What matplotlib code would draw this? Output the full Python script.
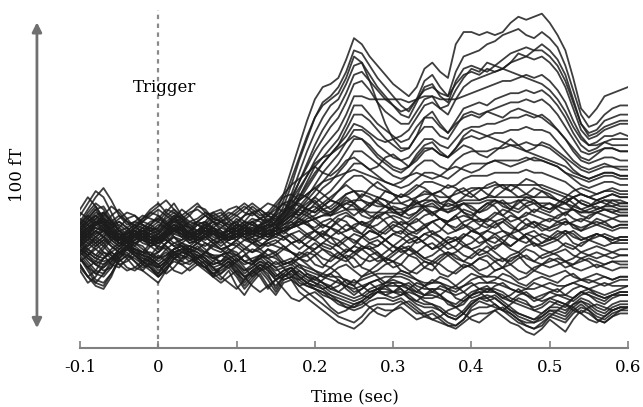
import numpy as np
import matplotlib
matplotlib.use('Agg')
import matplotlib.pyplot as plt

plt.rcParams['font.family'] = ['DejaVu Serif']

# sample times (sec), one value every 10 ms from -0.1 to 0.6
times = np.linspace(-0.1, 0.6, 71)

# sensor traces in fT
upper_traces = [
    [4,7,10,6,2,0,3,5,2,1, 0,4,6,3,1,3,5,4,2,3, 5,4,3,5,6,9,15,23,31,39,
     46,50,51,53,59,66,64,60,57,54, 51,49,47,50,56,58,55,53,64,68,
     68,67,68,67,68,71,73,72,73,74, 71,67,62,53,43,40,43,47,48,49,50],
    [2,5,8,9,5,1,-1,2,4,3, 1,2,5,4,0,1,4,6,3,1, 2,5,6,4,3,6,11,18,26,33,
     40,45,47,50,55,62,61,57,53,50, 47,44,42,46,52,54,50,47,55,60,
     61,62,64,65,67,68,69,67,66,68, 66,63,57,49,41,37,38,41,43,44,44],
    [-2,1,5,9,6,3,0,-2,1,4, 3,6,8,5,2,0,2,5,6,4, 3,1,2,5,6,5,9,15,22,29,
     35,40,44,46,51,57,58,54,50,47, 44,41,40,45,50,51,47,45,52,56,
     57,56,55,57,59,61,62,63,62,64, 62,59,54,46,38,35,36,39,40,41,41],
    [1,3,6,4,0,-2,1,3,2,-1, -2,1,4,6,3,0,1,3,2,0, 1,3,5,4,2,4,8,13,19,25,
     31,36,40,43,48,54,55,52,49,46, 44,42,43,46,49,50,48,47,51,54,
     55,54,56,55,56,58,59,60,59,60, 58,55,50,43,36,33,34,36,37,38,38],
    [3,6,9,8,4,1,2,4,3,1, 0,3,7,5,2,2,4,3,1,2, 4,5,3,2,4,6,9,14,19,24,
     29,33,37,40,45,51,52,49,45,42, 40,38,38,42,46,47,43,41,46,50,
     52,53,54,55,56,55,54,53,52,51, 49,46,42,37,33,31,32,34,34,35,34],
    [0,2,4,3,1,-1,-2,1,3,2, 0,1,3,5,4,1,0,2,4,3, 1,2,4,5,3,4,7,11,16,21,
     26,30,33,36,41,47,47,46,46,46, 46,46,45,46,47,47,46,46,46,47,
     48,49,50,51,52,52,53,54,53,54, 52,49,45,39,34,31,31,32,33,33,33],
    [5,8,11,7,3,1,2,3,1,0, 2,5,7,4,2,3,5,4,2,3, 4,3,2,4,5,5,7,10,14,19,
     24,27,30,33,38,44,44,41,38,36, 34,32,33,37,40,40,37,35,39,43,
     44,45,44,46,47,48,48,49,48,49, 47,44,40,35,31,29,30,32,31,31,31],
    [-1,2,5,6,3,0,-1,1,2,0, -1,1,4,3,1,0,2,4,3,1, 0,2,3,2,1,3,6,9,13,17,
     21,25,28,31,36,41,41,39,36,33, 31,29,30,34,37,37,34,33,37,41,
     42,41,42,43,44,45,45,46,45,46, 44,41,37,33,29,28,29,30,30,29,29],
    [2,4,6,4,1,-1,0,2,1,-1, 0,3,5,3,1,1,3,2,0,1, 3,4,2,1,3,4,6,8,11,14,
     18,22,25,28,32,36,36,34,31,29, 27,26,27,30,33,33,31,30,33,36,
     37,37,38,38,39,40,40,41,40,41, 39,36,33,29,26,25,26,27,27,26,26],
    [1,3,5,6,2,-1,1,3,2,0, 1,2,4,2,0,2,4,3,1,0, 2,4,4,2,2,3,5,7,10,13,
     16,19,22,25,29,33,33,31,28,26, 24,23,24,27,30,30,28,27,30,33,
     34,33,34,35,35,36,36,37,36,36, 35,32,29,26,24,23,24,25,24,24,24],
    [0,1,3,5,4,1,-1,0,2,1, -1,0,3,4,2,0,1,3,2,0, 1,3,3,2,1,2,4,6,8,11,
     14,17,19,22,25,29,29,27,25,23, 21,20,21,24,26,26,24,23,26,28,
     29,29,29,30,30,31,31,32,31,31, 30,28,26,23,21,20,21,22,22,21,21],
    [3,5,7,5,2,0,1,2,0,-1, 1,3,5,3,1,2,3,1,0,2, 3,2,1,2,3,3,4,5,7,9,
     12,14,16,19,22,25,25,23,21,19, 18,17,18,20,22,22,21,20,22,24,
     25,25,25,26,26,26,26,27,26,26, 25,24,22,20,18,17,18,19,19,18,18],
    [-2,0,2,3,1,-1,-2,0,1,0, -1,1,3,2,0,-1,1,2,1,0, 1,2,2,1,0,1,3,4,6,8,
     10,12,14,16,19,21,21,19,17,16, 15,14,15,17,19,19,18,17,18,20,
     21,21,21,22,22,22,22,23,22,22, 21,20,19,17,15,14,15,16,16,15,15],
    [1,2,4,3,0,-2,-1,1,2,1, 0,2,4,3,1,0,2,3,1,0, 1,2,3,2,1,2,3,4,5,7,
     8,10,11,13,15,16,16,15,14,13, 12,12,13,14,15,15,14,14,15,16,
     17,17,17,18,18,18,18,18,18,18, 17,16,15,14,12,11,12,13,13,13,12],
    [4,6,8,5,1,-1,0,2,1,-2, -1,1,4,3,0,1,3,2,0,1, 2,1,0,1,2,3,4,4,5,6,
     7,8,9,11,12,13,13,12,11,11, 10,10,11,12,13,13,12,11,12,13,
     13,13,14,14,14,14,14,14,14,14, 14,13,12,11,10,9,10,11,11,10,10],
    [0,3,6,7,3,0,1,2,0,-1, 0,2,3,2,-1,0,2,4,2,0, 1,3,2,1,2,2,3,4,5,6,
     7,8,8,9,10,10,10,9,9,9, 9,9,10,11,11,11,10,10,11,12,
     12,12,13,13,12,12,13,13,12,12, 12,11,10,10,9,9,9,10,10,9,9],
    [2,4,5,3,1,0,2,3,1,0, 1,3,4,2,1,2,3,2,1,2, 3,4,3,3,4,5,7,10,14,18,
     22,25,28,31,34,38,37,35,33,32, 33,34,36,40,44,45,43,44,49,53,
     56,55,58,57,56,58,61,60,62,62, 60,57,52,45,38,34,35,37,38,39,39],
    [1,3,5,6,3,1,0,2,3,2, 1,2,4,3,1,1,3,4,2,1, 2,3,3,4,5,8,13,20,27,34,
     40,44,46,48,53,60,58,52,45,38, 33,30,30,34,40,42,38,35,38,40,
     41,40,42,41,40,42,43,42,41,40, 38,36,33,30,27,26,28,30,30,29,29],
    [9,7,5,8,11,9,6,5,7,10, 12,9,7,6,8,11,10,7,6,8, 10,12,10,8,9,12,15,18,20,22,
     24,22,21,23,26,27,25,23,24,27, 28,26,24,26,29,30,28,27,29,31,
     30,28,27,29,31,33,31,29,30,32, 31,29,27,25,23,22,23,24,24,23,23],
    [1,4,7,9,6,3,2,4,6,5, 3,5,8,7,4,2,4,7,6,4, 3,5,7,6,4,6,9,13,17,21,
     25,27,28,30,32,34,33,30,27,25, 23,22,24,28,31,32,29,27,30,34,
     36,35,34,33,32,31,30,29,28,27, 26,25,24,22,21,20,21,22,22,21,21],
    [3,1,-1,1,4,5,3,1,2,4, 6,4,2,1,3,5,4,2,1,3, 5,4,2,3,5,7,9,11,13,15,
     17,19,20,21,22,23,22,21,20,19, 18,19,21,22,21,20,21,23,24,23,
     22,23,25,26,25,24,25,26,27,26, 25,24,22,21,20,19,20,21,21,20,20],
]

middle_traces = [
    [8,12,16,14,9,4,2,4,7,9, 11,13,10,8,10,12,9,7,8,10, 11,9,8,10,12,11,9,12,15,14,
     12,10,9,11,13,12,10,8,7,9, 11,10,8,9,12,13,11,9,10,12,
     11,9,10,12,13,11,10,12,13,11, 10,12,14,12,10,11,13,12,11,12,12],
    [5,9,12,10,6,3,4,6,5,3, 4,8,10,7,5,6,8,6,4,6, 8,6,5,7,9,8,6,8,10,9,
     7,5,4,6,8,7,5,4,5,7, 8,7,5,6,8,9,7,6,7,8,
     7,6,7,9,8,6,7,9,8,7, 6,8,9,7,6,8,9,8,7,8,8],
    [2,4,6,5,3,1,2,3,2,1, 2,5,7,4,2,3,4,3,2,3, 5,4,2,3,5,4,3,5,6,5,
     3,2,1,3,5,4,2,0,1,3, 5,4,2,3,5,6,4,2,3,5,
     4,2,3,5,6,4,3,5,6,4, 3,4,6,5,3,4,5,4,3,4,4],
    [0,-2,1,3,1,-1,0,1,-1,-2, -1,2,4,1,-1,0,2,0,-1,1, 2,0,-1,1,2,1,0,2,3,1,
     0,-2,-3,-1,1,0,-2,-3,-2,0, 2,1,-1,0,2,3,1,-1,0,2,
     1,-1,0,2,3,1,0,2,3,1, 0,1,3,2,0,1,2,1,0,1,1],
    [-3,-5,-2,0,-2,-4,-3,-1,-3,-5, -4,-1,1,-2,-4,-3,-1,-3,-4,-2, -1,-3,-4,-2,-1,-2,-3,-1,0,-2,
     -4,-6,-7,-5,-3,-4,-6,-7,-6,-4, -2,-3,-5,-4,-2,-1,-3,-5,-4,-2,
     -3,-5,-4,-2,-1,-3,-4,-2,-1,-3, -4,-3,-1,-2,-4,-3,-2,-3,-4,-3,-3],
    [-6,-9,-7,-4,-5,-8,-7,-5,-7,-9, -11,-7,-4,-5,-7,-6,-5,-7,-8,-6, -5,-7,-8,-6,-5,-6,-8,-7,-6,-8,
     -10,-12,-11,-9,-8,-10,-12,-11,-10,-8, -7,-8,-10,-11,-9,-7,-8,-10,-11,-9,
     -8,-10,-9,-7,-6,-8,-10,-11,-9,-8, -9,-8,-7,-9,-10,-9,-8,-9,-10,-9,-9],
    [4,7,10,11,7,3,1,2,4,6, 7,10,9,6,4,6,8,9,7,5, 6,8,9,7,6,8,10,11,9,8,
     6,4,6,8,9,7,5,6,8,9, 7,5,6,8,10,9,7,6,8,10,
     9,7,6,8,10,9,7,8,10,9, 8,7,9,10,8,7,9,10,9,8,8],
    [-1,1,3,1,-2,-4,-2,0,2,0, -3,-1,2,4,2,-1,-2,0,1,-1, -2,0,1,-1,-2,-1,1,2,0,-2,
     -3,-1,1,0,-2,-4,-3,-1,0,-2, -4,-2,0,1,-1,-3,-2,0,1,-1,
     -3,-2,0,1,-1,-2,0,1,-1,-2, -1,0,-2,-3,-1,0,-1,-2,-1,-1,-1],
    [-8,-12,-14,-11,-7,-4,-5,-7,-9,-8, -6,-4,-6,-8,-7,-5,-6,-9,-11,-8, -6,-9,-12,-10,-7,-9,-12,-10,-8,-11,
     -13,-11,-9,-11,-14,-15,-12,-10,-12,-14, -12,-10,-11,-13,-15,-14,-12,-13,-15,-13,
     -11,-12,-14,-13,-11,-12,-14,-15,-13,-12, -13,-14,-12,-11,-13,-14,-13,-12,-13,-12,-12],
    [6,10,14,17,13,8,5,6,8,7, 6,9,12,8,6,7,9,8,6,7, 9,11,9,7,8,10,12,13,11,10,
     9,11,13,12,10,8,10,12,13,11, 9,8,10,12,11,9,10,12,11,9,
     8,10,12,13,11,10,12,14,13,11, 10,11,13,14,12,11,12,13,12,11,11],
    [1,-1,-3,-1,2,3,1,-1,0,2, 3,1,-1,0,2,1,-1,-2,0,2, 3,1,-1,0,2,3,1,-1,0,2,
     3,1,-1,-2,0,2,1,-1,-2,0, 2,3,1,-1,0,2,1,-1,0,1,
     3,2,0,-1,1,2,0,-1,1,2, 1,0,2,3,1,0,1,2,1,0,0],
    [-4,-2,0,-2,-5,-7,-5,-3,-4,-6, -8,-6,-3,-2,-4,-6,-4,-2,-3,-5, -7,-5,-3,-4,-6,-5,-3,-4,-6,-7,
     -5,-3,-4,-6,-7,-5,-3,-2,-4,-6, -7,-5,-3,-4,-6,-7,-5,-4,-6,-7,
     -5,-3,-4,-6,-7,-5,-4,-6,-7,-5, -4,-5,-7,-6,-4,-5,-6,-5,-4,-5,-5],
    [3,1,-1,1,4,6,4,2,3,5, 7,5,3,4,6,5,3,4,6,5, 3,4,6,7,5,4,6,8,7,5,
     4,6,7,5,3,4,6,5,3,2, 4,6,5,3,4,6,7,5,4,6,
     7,5,4,6,7,5,3,4,6,5, 4,5,6,5,4,5,6,5,4,5,5],
    [-10,-14,-12,-8,-6,-8,-10,-9,-7,-9, -12,-9,-7,-8,-10,-8,-7,-9,-12,-14, -16,-13,-10,-12,-16,-13,-11,-13,-15,-14,
     -12,-14,-16,-17,-15,-13,-15,-17,-16,-14, -13,-14,-16,-17,-15,-13,-14,-16,-17,-15,
     -14,-16,-17,-15,-14,-16,-17,-16,-14,-15, -16,-17,-15,-14,-15,-16,-15,-14,-15,-15,-15],
    [7,5,2,4,8,10,7,4,6,9, 8,5,7,10,8,5,6,9,10,7, 5,8,11,9,6,9,12,10,8,11,
     13,10,8,11,14,12,9,11,14,13, 10,8,11,13,10,8,10,13,12,9,
     7,10,12,11,8,10,13,11,9,11, 12,10,8,11,13,12,10,11,13,12,12],
    [-2,0,3,1,-1,-3,0,2,0,-2, -4,-1,1,-1,-3,-1,1,-1,-3,-2, 0,2,0,-2,0,2,1,-1,-3,-1,
     1,3,1,-2,-4,-2,1,3,2,0, -2,-4,-3,0,2,1,-1,-3,-2,1,
     3,2,-1,-3,-1,2,3,1,-2,-1, 1,3,2,-1,-2,0,2,1,-1,0,0],
    [3,6,8,6,2,0,3,5,4,1, 0,3,6,5,2,3,6,4,2,4, 6,3,1,4,7,5,2,4,7,6,
     3,1,4,7,6,3,2,5,8,6, 3,2,5,7,5,2,3,6,8,5,
     3,4,7,6,3,2,5,7,5,3, 4,6,7,4,3,5,7,6,4,5,5],
    [-5,-3,-1,-4,-6,-4,-2,-4,-7,-5, -2,-3,-6,-7,-4,-2,-4,-6,-5,-3, -4,-7,-8,-5,-3,-5,-8,-7,-4,-5,
     -8,-9,-6,-4,-6,-9,-8,-5,-4,-7, -9,-8,-5,-6,-9,-10,-7,-5,-7,-9,
     -8,-6,-7,-10,-9,-6,-5,-8,-10,-8, -6,-7,-9,-8,-6,-7,-9,-8,-7,-8,-8],
    [10,14,11,7,5,7,9,8,6,8, 10,8,6,7,9,10,8,6,7,9, 8,10,12,10,8,11,14,15,13,15,
     17,15,13,16,18,16,14,17,19,17, 15,14,16,18,17,15,16,18,17,15,
     14,16,18,19,17,16,18,20,19,17, 16,15,14,16,17,16,15,16,17,16,16],
    [-9,-12,-10,-6,-4,-6,-9,-10,-8,-6, -8,-11,-9,-6,-5,-7,-9,-11,-9,-7, -9,-12,-11,-8,-10,-13,-12,-10,-12,-14,
     -15,-13,-11,-13,-16,-18,-16,-14,-16,-18, -17,-15,-14,-16,-18,-17,-15,-16,-19,-20,
     -18,-16,-15,-17,-19,-18,-16,-18,-20,-19, -17,-16,-18,-19,-17,-16,-18,-19,-18,-17,-17],
    [0,2,5,7,5,2,1,3,5,4, 2,4,7,8,5,3,4,6,5,3, 2,4,6,4,2,3,5,6,4,2,
     0,2,4,3,1,-1,1,3,2,0, -2,0,2,1,-1,-3,-1,1,0,-2,
     -1,1,3,2,0,-2,0,2,1,-1, 0,2,3,1,0,1,2,1,0,1,1],
    [6,3,1,3,6,8,6,3,2,5, 8,6,3,1,3,6,5,2,1,4, 7,5,3,5,8,7,5,7,10,12,
     14,12,10,12,15,16,13,11,13,16, 15,12,11,14,16,15,12,13,16,17,
     15,13,14,17,18,16,14,15,17,16, 14,13,12,14,15,14,13,14,15,14,14],
    [-1,-4,-6,-3,0,1,-1,-4,-5,-2, 0,-2,-5,-6,-3,-1,-3,-6,-7,-4, -2,-4,-7,-6,-3,-4,-7,-8,-6,-4,
     -5,-8,-9,-7,-5,-6,-9,-10,-8,-6, -7,-10,-11,-9,-7,-8,-11,-12,-10,-8,
     -9,-11,-12,-10,-9,-11,-13,-12,-10,-11, -12,-11,-10,-12,-13,-12,-11,-12,-13,-12,-12],
    [4,2,0,2,5,6,4,1,0,3, 5,4,1,0,2,5,6,3,1,2, 4,6,5,3,2,4,7,9,8,10,
     11,9,8,10,12,11,8,7,9,11, 10,8,7,9,11,12,10,9,11,12,
     10,9,11,13,12,10,9,11,12,10, 9,11,12,10,9,10,11,10,9,10,10],
    [-7,-5,-3,-5,-8,-9,-6,-4,-5,-8, -9,-7,-4,-3,-5,-8,-9,-7,-5,-6, -8,-10,-9,-7,-8,-11,-13,-12,-10,-12,
     -14,-16,-15,-13,-15,-17,-16,-14,-13,-15, -17,-18,-16,-14,-15,-17,-18,-16,-15,-17,
     -19,-18,-16,-17,-19,-20,-18,-17,-19,-20, -19,-18,-19,-20,-18,-17,-18,-19,-18,-18,-18],
    [2,0,-2,0,3,2,0,-1,1,3, 2,0,-2,-1,1,3,2,0,-2,0, 2,1,-1,-2,0,2,3,1,-1,1,
     3,5,4,2,3,5,6,4,2,4, 6,5,3,2,4,6,7,5,3,4,
     6,7,5,4,6,8,7,5,4,6, 7,6,5,6,7,6,5,6,7,6,6],
    [5,8,6,3,2,4,7,8,5,3, 4,7,9,7,4,3,5,8,9,6, 4,6,9,10,8,6,8,11,12,10,
     9,11,13,12,10,12,15,14,12,11, 13,15,14,12,13,15,16,14,12,14,
     16,17,15,14,16,18,17,15,14,16, 15,13,12,14,15,14,13,14,15,14,14],
    [-4,-1,1,-1,-4,-6,-3,-1,-2,-5, -6,-3,-1,-2,-4,-6,-4,-1,0,-3, -5,-3,-1,-3,-5,-4,-2,-4,-6,-5,
     -3,-1,-2,-4,-6,-4,-2,-3,-5,-7, -5,-3,-2,-4,-6,-5,-3,-1,-3,-5,
     -6,-4,-2,-4,-6,-7,-5,-3,-4,-6, -5,-4,-3,-5,-6,-5,-4,-5,-6,-5,-5],
    [0,-3,-5,-2,1,2,0,-3,-4,-1, 1,0,-2,-4,-2,0,1,-1,-3,-2, 0,-2,-4,-3,-1,0,-2,-4,-5,-3,
     -1,-3,-5,-6,-4,-2,-3,-5,-7,-6, -4,-2,-3,-5,-7,-8,-6,-4,-5,-7,
     -8,-6,-5,-7,-9,-8,-6,-5,-7,-8, -7,-6,-7,-8,-7,-6,-7,-8,-7,-7,-7],
]

lower_traces = [
    [-8,-12,-15,-16,-12,-6,-4,-7,-10,-12, -14,-10,-6,-4,-5,-7,-9,-11,-13,-10, -15,-18,-14,-11,-15,-18,-14,-13,-17,-19,
     -21,-23,-25,-27,-28,-29,-27,-24,-22,-23, -23,-22,-24,-26,-25,-24,-26,-28,-29,-27,
     -25,-24,-24,-23,-25,-27,-28,-30,-31,-29, -26,-28,-30,-26,-23,-24,-26,-27,-25,-24,-24],
    [-6,-9,-13,-14,-11,-7,-5,-6,-8,-10, -12,-9,-6,-5,-6,-8,-10,-12,-11,-9, -12,-16,-13,-10,-13,-17,-13,-12,-15,-17,
     -19,-21,-23,-25,-26,-27,-25,-22,-21,-21, -21,-20,-22,-24,-24,-23,-25,-27,-28,-26,
     -23,-22,-22,-21,-23,-25,-27,-28,-29,-28, -25,-26,-27,-24,-22,-23,-25,-26,-24,-23,-23],
    [-4,-7,-10,-11,-8,-4,-3,-5,-7,-8, -11,-8,-5,-4,-5,-6,-8,-12,-9,-7, -10,-14,-11,-9,-12,-15,-12,-10,-13,-15,
     -16,-17,-19,-20,-22,-23,-22,-20,-19,-19, -20,-19,-21,-23,-25,-26,-27,-28,-28,-26,
     -22,-20,-21,-22,-23,-24,-26,-27,-27,-26, -24,-25,-26,-23,-21,-23,-26,-27,-25,-23,-22],
    [-2,-5,-8,-10,-9,-5,-2,-3,-5,-6, -9,-7,-4,-3,-4,-5,-7,-9,-8,-6, -9,-12,-10,-8,-10,-13,-11,-9,-12,-14,
     -15,-16,-18,-20,-21,-22,-21,-19,-17,-17, -17,-16,-18,-20,-21,-21,-22,-24,-25,-23,
     -20,-19,-20,-19,-21,-23,-25,-26,-27,-25, -23,-24,-25,-22,-20,-21,-23,-24,-22,-21,-21],
    [-5,-8,-11,-12,-9,-5,-3,-4,-6,-7, -10,-8,-5,-3,-3,-5,-7,-10,-9,-7, -11,-15,-12,-9,-11,-16,-12,-11,-14,-15,
     -16,-17,-18,-19,-20,-21,-20,-18,-16,-16, -17,-17,-19,-21,-22,-22,-23,-25,-26,-24,
     -21,-19,-19,-18,-20,-22,-24,-25,-26,-25, -23,-23,-24,-21,-19,-20,-22,-23,-21,-20,-20],
    [-3,-5,-7,-8,-6,-3,-1,-3,-5,-6, -8,-6,-3,-2,-3,-4,-6,-8,-7,-5, -7,-10,-8,-6,-8,-10,-9,-8,-10,-12,
     -13,-14,-15,-17,-18,-19,-18,-16,-15,-14, -14,-14,-15,-17,-18,-18,-19,-20,-21,-19,
     -17,-16,-16,-16,-17,-19,-20,-21,-22,-21, -19,-20,-21,-19,-17,-18,-20,-21,-19,-18,-18],
    [-1,-3,-5,-6,-4,-2,0,-2,-4,-5, -7,-5,-3,-1,-2,-3,-5,-6,-5,-4, -6,-8,-7,-5,-7,-9,-8,-7,-9,-10,
     -11,-12,-13,-14,-15,-16,-15,-14,-13,-12, -12,-12,-13,-15,-16,-16,-16,-17,-18,-17,
     -15,-14,-14,-14,-15,-16,-17,-18,-19,-18, -17,-18,-18,-16,-15,-16,-17,-18,-17,-16,-15],
    [-6,-10,-14,-15,-11,-6,-3,-5,-8,-9, -12,-10,-6,-4,-4,-6,-8,-11,-10,-8, -11,-13,-10,-8,-9,-12,-10,-9,-11,-13,
     -14,-15,-17,-18,-19,-20,-19,-17,-16,-15, -15,-15,-16,-18,-19,-19,-18,-20,-22,-21,
     -18,-17,-17,-17,-18,-20,-21,-22,-23,-22, -20,-21,-22,-19,-17,-18,-19,-20,-18,-17,-17],
    [-2,-4,-6,-7,-6,-3,-2,-3,-4,-4, -6,-5,-3,-2,-2,-3,-4,-5,-5,-4, -5,-7,-6,-5,-6,-8,-7,-6,-8,-9,
     -10,-11,-12,-12,-13,-14,-13,-12,-11,-11, -11,-11,-12,-13,-14,-14,-14,-15,-16,-15,
     -13,-12,-12,-12,-13,-14,-15,-16,-16,-15, -14,-15,-15,-14,-13,-13,-14,-15,-14,-13,-13],
    [-4,-6,-8,-9,-7,-4,-2,-4,-6,-7, -9,-7,-4,-3,-3,-4,-6,-8,-7,-6, -8,-11,-9,-7,-9,-12,-10,-9,-12,-14,
     -16,-18,-19,-21,-22,-22,-20,-18,-17,-18, -19,-18,-17,-18,-20,-21,-23,-25,-26,-24,
     -21,-19,-18,-19,-21,-23,-24,-25,-26,-24, -22,-22,-23,-21,-20,-22,-24,-25,-23,-22,-22],
    [-3,-6,-8,-6,-3,-1,-2,-5,-7,-6, -4,-2,-4,-7,-8,-6,-4,-5,-8,-9, -7,-5,-7,-10,-9,-7,-9,-12,-13,-11,
     -12,-14,-16,-15,-13,-15,-18,-19,-17,-15, -14,-16,-19,-20,-18,-16,-18,-21,-22,-20,
     -18,-17,-19,-21,-23,-21,-19,-20,-23,-24, -22,-20,-21,-23,-24,-22,-21,-22,-23,-22,-22],
    [-6,-9,-11,-9,-6,-4,-6,-9,-10,-7, -5,-7,-10,-11,-9,-7,-9,-12,-14,-12, -10,-12,-15,-17,-15,-13,-16,-19,-20,-18,
     -17,-19,-22,-24,-23,-21,-20,-22,-24,-25, -23,-21,-20,-22,-24,-26,-25,-23,-22,-24,
     -26,-27,-25,-23,-22,-24,-26,-28,-29,-27, -25,-23,-21,-22,-24,-26,-27,-25,-23,-22,-22],
]

for tr in upper_traces + middle_traces + lower_traces:
    assert len(tr) == len(times), len(tr)

fig = plt.figure(figsize=(6.43, 4.07), dpi=100)
ax = fig.add_axes([80 / 643, 59 / 407, 548 / 643, 338 / 407])

for tr in middle_traces + lower_traces + upper_traces:
    ax.plot(times, tr, color='#1c1c1c', lw=1.3, alpha=0.85)

ax.axvline(0, color='#8a8a8a', lw=1.6, ls=(0, (2, 2)), zorder=0)

ax.set_xlim(-0.1, 0.6)
ax.set_ylim(-35.3, 75.2)
for side in ['left', 'top', 'right']:
    ax.spines[side].set_visible(False)
ax.spines['bottom'].set_color('#808080')
ax.spines['bottom'].set_linewidth(1.5)
ax.set_yticks([])
ax.set_xticks([-0.1, 0, 0.1, 0.2, 0.3, 0.4, 0.5, 0.6])
ax.set_xticklabels(['-0.1', '0', '0.1', '0.2', '0.3', '0.4', '0.5', '0.6'])
ax.tick_params(axis='x', direction='in', length=5, width=1.2, color='#808080',
               labelsize=12, pad=8)

ax.text(0.0086, 49.7, 'Trigger', ha='center', va='center', fontsize=12)

# 100 fT scale arrow
ax.annotate('', xy=(-0.155, 71.2), xytext=(-0.155, -28.8),
            arrowprops=dict(arrowstyle='<|-|>', color='#707070', lw=2,
                            mutation_scale=14, shrinkA=0, shrinkB=0),
            annotation_clip=False)
fig.text(18 / 643, 1 - 175 / 407, '100 fT', rotation=90, ha='center', va='center',
         fontsize=12)
fig.text(355 / 643, 1 - 398 / 407, 'Time (sec)', ha='center', va='center', fontsize=12)

fig.savefig('out.png', dpi=100)
